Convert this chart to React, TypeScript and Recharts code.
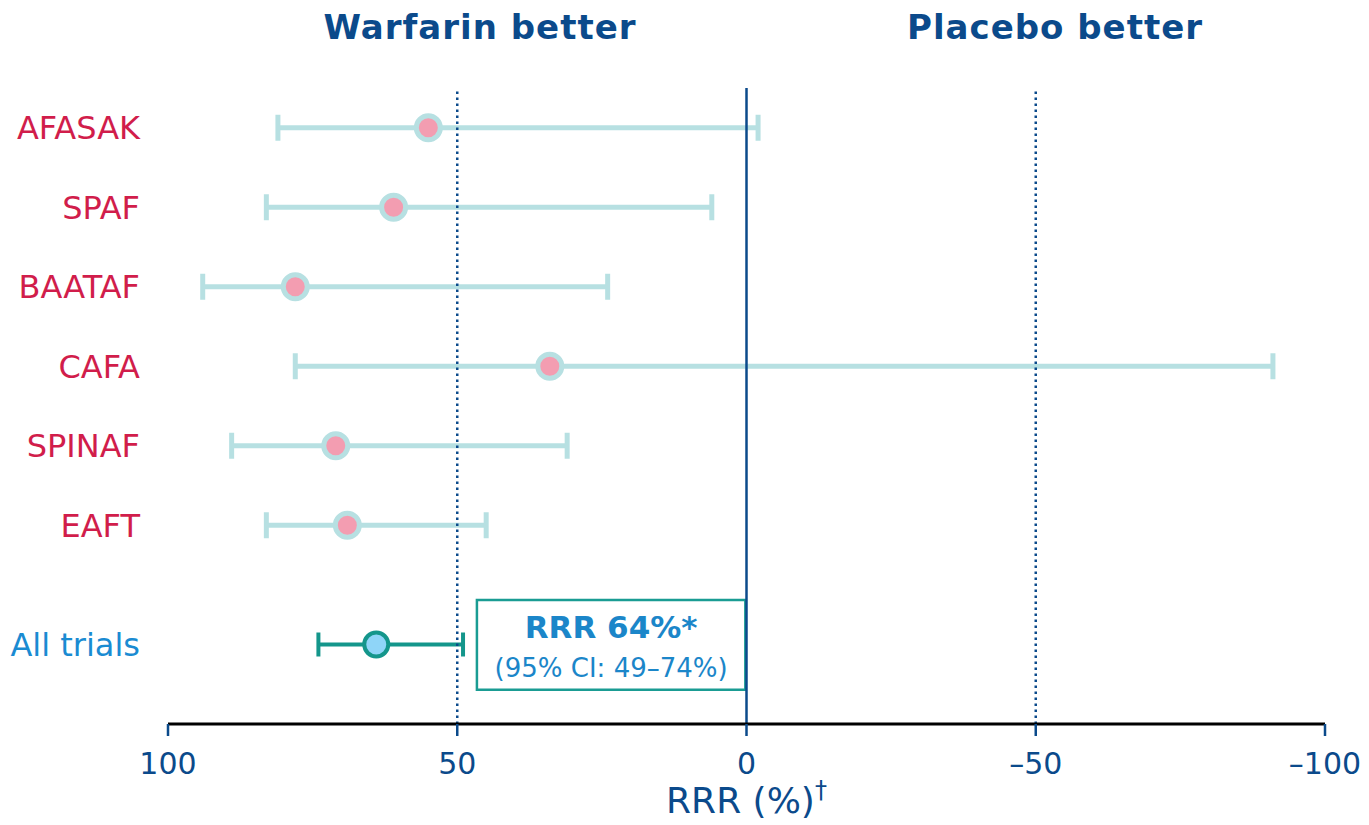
import {
  ScatterChart,
  Scatter,
  XAxis,
  YAxis,
  ErrorBar,
  ReferenceLine,
  ReferenceArea,
  Label,
} from "recharts";

// Trial-level relative risk reduction (%) with 95% CI
const trials = ["AFASAK", "SPAF", "BAATAF", "CAFA", "SPINAF", "EAFT"];
const trialRRR = [55, 61, 78, 34, 71, 69];
const trialLower = [-2, 6, 24, -91, 31, 45];
const trialUpper = [81, 83, 94, 78, 89, 83];

// Pooled estimate
const pooledName = "All trials";
const pooledRRR = 64;
const pooledLower = 49;
const pooledUpper = 74;

const xTicks = [100, 50, 0, -50, -100];

const W = 1369;
const H = 825;
const POOLED_ROW = 7.5;

const NAVY = "#0b4a8b";
const CRIMSON = "#d11d4b";
const SKY = "#1a8bd2";
const CI_LIGHT = "#b7e0e2";
const PINK = "#f39db1";
const TEAL = "#14968b";
const POOLED_FILL = "#8fd5f8";
const BOX_TEXT = "#1b86c9";
const SANS = "'DejaVu Sans', Verdana, sans-serif";

const trialRows = trials.map((name, i) => ({
  name,
  row: i + 1,
  rrr: trialRRR[i],
  err: [trialRRR[i] - trialLower[i], trialUpper[i] - trialRRR[i]],
}));

const pooledRows = [
  {
    name: pooledName,
    row: POOLED_ROW,
    rrr: pooledRRR,
    err: [pooledRRR - pooledLower, pooledUpper - pooledRRR],
  },
];

const rowNames: Record<number, string> = {};
trialRows.forEach((d) => (rowNames[d.row] = d.name));
rowNames[POOLED_ROW] = pooledName;

const fmtTick = (v: number) => (v < 0 ? `\u2013${Math.abs(v)}` : `${v}`);

function RowTick(props: any) {
  const { x, y, payload } = props;
  const pooled = payload.value === POOLED_ROW;
  return (
    <text
      x={x}
      y={y}
      dy="0.36em"
      textAnchor="end"
      fill={pooled ? SKY : CRIMSON}
      fontSize={32}
      fontFamily={SANS}
    >
      {rowNames[payload.value]}
    </text>
  );
}

const TrialDot = (p: any) => (
  <circle cx={p.cx} cy={p.cy} r={12} fill={PINK} stroke={CI_LIGHT} strokeWidth={5} />
);

const PooledDot = (p: any) => (
  <circle cx={p.cx} cy={p.cy} r={12} fill={POOLED_FILL} stroke={TEAL} strokeWidth={4} />
);

function PooledBox(props: any) {
  const { x, y, width } = props.viewBox;
  const cx = x + width / 2;
  return (
    <g>
      <text x={cx} y={y + 38} textAnchor="middle" fill={BOX_TEXT} fontSize={31} fontWeight="bold" fontFamily={SANS}>
        {`RRR ${pooledRRR}%*`}
      </text>
      <text x={cx} y={y + 77} textAnchor="middle" fill={BOX_TEXT} fontSize={26} fontFamily={SANS}>
        {`(95% CI: ${pooledLower}\u2013${pooledUpper}%)`}
      </text>
    </g>
  );
}

function AxisTitle(props: any) {
  const { x, y, width } = props.viewBox;
  return (
    <text x={x + width / 2} y={y + 89} textAnchor="middle" fill={NAVY} fontSize={36} fontFamily={SANS}>
      RRR (%)
      <tspan fontSize={24} dy={-15}>{"\u2020"}</tspan>
    </text>
  );
}

export default function App() {
  return (
    <div style={{ position: "relative", width: W, height: H, background: "#fff" }}>
      <style>{"html,body{margin:0;padding:0;overflow:hidden;background:#fff}"}</style>
      <ScatterChart width={W} height={H} margin={{ top: 88, right: 44, bottom: 0, left: 0 }}>
        <XAxis
          type="number"
          dataKey="rrr"
          domain={[-100, 100]}
          reversed
          ticks={xTicks}
          tickFormatter={fmtTick}
          height={101}
          tickSize={12}
          tickMargin={17}
          axisLine={{ stroke: "#000", strokeWidth: 3 }}
          tickLine={{ stroke: NAVY, strokeWidth: 2.5 }}
          tick={{ fill: NAVY, fontSize: 30, fontFamily: SANS }}
        >
          <Label content={AxisTitle} />
        </XAxis>
        <YAxis
          type="number"
          dataKey="row"
          domain={[0.5, 8.5]}
          reversed
          ticks={[...trialRows.map((d) => d.row), POOLED_ROW]}
          width={168}
          tickSize={0}
          tickMargin={28}
          axisLine={false}
          tickLine={false}
          tick={<RowTick />}
          interval={0}
        />
        <ReferenceArea
          x1={46.6}
          x2={0.2}
          y1={6.94}
          y2={8.07}
          fill="#fff"
          fillOpacity={1}
          stroke="#1a9c93"
          strokeWidth={2.5}
          label={(p: any) => <PooledBox {...p} />}
        />
        <Scatter data={trialRows} shape={TrialDot} isAnimationActive={false}>
          <ErrorBar dataKey="err" direction="x" width={13} stroke={CI_LIGHT} strokeWidth={5} isAnimationActive={false} />
        </Scatter>
        <Scatter data={pooledRows} shape={PooledDot} isAnimationActive={false}>
          <ErrorBar dataKey="err" direction="x" width={12} stroke={TEAL} strokeWidth={4} isAnimationActive={false} />
        </Scatter>
        <ReferenceLine x={50} stroke={NAVY} strokeWidth={2.5} strokeDasharray="2.5 3.5" />
        <ReferenceLine x={-50} stroke={NAVY} strokeWidth={2.5} strokeDasharray="2.5 3.5" />
        <ReferenceLine x={0} stroke={NAVY} strokeWidth={2.5} />
      </ScatterChart>
      <svg
        width={W}
        height={80}
        style={{ position: "absolute", left: 0, top: 0, pointerEvents: "none" }}
      >
        <text x={480} y={39} textAnchor="middle" fill={NAVY} fontSize={34} fontWeight="bold" fontFamily={SANS} letterSpacing={1}>
          Warfarin better
        </text>
        <text x={1055} y={39} textAnchor="middle" fill={NAVY} fontSize={34} fontWeight="bold" fontFamily={SANS} letterSpacing={1}>
          Placebo better
        </text>
      </svg>
    </div>
  );
}
